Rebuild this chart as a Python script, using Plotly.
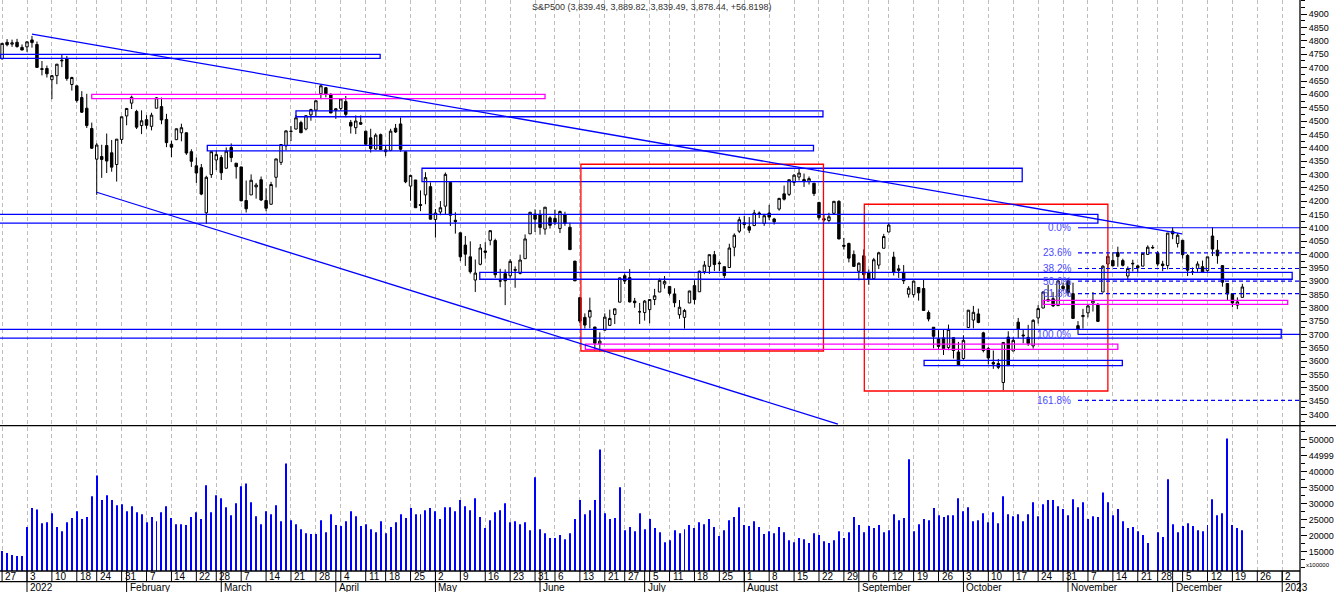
import plotly.graph_objects as go
import pandas as pd

# trading calendar (weekdays less NYSE holidays), future weekdays on the right
first_day = "2021-12-27"
last_day = "2022-12-21"
axis_end = "2023-01-06"
holidays = ["2022-01-17", "2022-02-21", "2022-04-15", "2022-05-30",
            "2022-06-20", "2022-07-04", "2022-09-05", "2022-11-24"]
month_names = ["2022", "February", "March", "April", "May", "June", "July",
               "August", "September", "October", "November", "December", "2023"]

# daily OHLC, Dec 27 2021 .. Dec 21 2022
opens = [4733, 4795, 4788, 4795, 4776,
         4778, 4804, 4787, 4693, 4697, 4655, 4670, 4728, 4733, 4637, 4632, 4588, 4548, 4472, 4357, 4367, 4408, 4381, 4337, 4431,
         4519, 4567, 4536, 4483, 4505, 4480, 4548, 4554, 4506, 4413, 4430, 4456, 4456, 4385, 4332, 4325, 4156, 4299, 4354,
         4363, 4323, 4401, 4342, 4328, 4202, 4223, 4253, 4280, 4202, 4188, 4289, 4345, 4407, 4462, 4470, 4494, 4470, 4523, 4541, 4602, 4625, 4600,
         4540, 4547, 4573, 4495, 4475, 4494, 4462, 4437, 4395, 4449, 4385, 4390, 4473, 4489, 4385, 4256, 4279, 4187, 4223, 4254,
         4131, 4159, 4181, 4270, 4128, 4081, 4035, 3991, 3904, 3963, 4013, 4053, 4052, 3900, 3928, 3920, 3943, 3929, 3984, 4077, 4151,
         4150, 4095, 4137, 4135, 4097, 4148, 4102, 3975, 3838, 3764, 3765, 3728, 3665, 3716, 3734, 3775, 3821, 3920, 3913, 3825, 3785,
         3782, 3793, 3831, 3859, 3889, 3880, 3852, 3774, 3764, 3818, 3883, 3860, 3935, 3955, 3999, 3965, 3954, 3951, 4027, 4087,
         4112, 4104, 4108, 4155, 4116, 4155, 4133, 4170, 4227, 4225, 4270, 4290, 4281, 4274, 4267, 4195, 4134, 4127, 4154, 4199, 4034, 4041, 4000,
         3937, 3995, 3931, 3909, 3960, 4023, 4084, 3990, 3940, 3932, 3851, 3849, 3876, 3872, 3782, 3727, 3683, 3687, 3651, 3688, 3634,
         3610, 3726, 3754, 3777, 3706, 3647, 3595, 3591, 3520, 3690, 3638, 3746, 3698, 3689, 3657, 3762, 3799, 3825, 3834, 3808, 3881,
         3901, 3853, 3733, 3767, 3781, 3818, 3810, 3859, 3964, 3977, 4007, 3977, 3919, 3967, 3957, 3956, 4000, 4024, 4005, 3964, 3958,
         4087, 4041, 4053, 3996, 3934, 3947, 3954, 3939, 4069, 4016, 3958, 3891, 3853, 3810, 3839]
highs = [4791, 4807, 4805, 4808, 4787,
         4797, 4819, 4798, 4725, 4708, 4673, 4714, 4749, 4744, 4666, 4632, 4612, 4602, 4494, 4417, 4411, 4453, 4429, 4432, 4516,
         4549, 4595, 4542, 4540, 4522, 4531, 4590, 4588, 4527, 4426, 4472, 4490, 4457, 4394, 4363, 4339, 4295, 4385, 4389,
         4372, 4401, 4416, 4342, 4328, 4277, 4300, 4268, 4292, 4248, 4272, 4358, 4412, 4465, 4481, 4523, 4501, 4521, 4546, 4576, 4637, 4627, 4604,
         4548, 4583, 4594, 4504, 4521, 4521, 4464, 4471, 4454, 4453, 4411, 4471, 4489, 4513, 4385, 4299, 4279, 4240, 4308, 4270,
         4170, 4200, 4307, 4270, 4158, 4082, 4069, 4049, 3981, 4039, 4046, 4090, 4059, 3946, 3944, 3982, 3955, 3999, 4075, 4159, 4169,
         4167, 4177, 4143, 4168, 4164, 4160, 4119, 3975, 3839, 3779, 3838, 3728, 3708, 3779, 3793, 3797, 3913, 3928, 3945, 3837, 3818,
         3829, 3832, 3871, 3910, 3919, 3881, 3873, 3829, 3796, 3864, 3903, 3939, 3975, 3999, 4013, 3975, 3954, 4040, 4079, 4141,
         4145, 4140, 4167, 4161, 4152, 4186, 4137, 4212, 4258, 4280, 4301, 4325, 4303, 4292, 4267, 4195, 4149, 4156, 4200, 4203, 4062, 4044, 4015,
         3970, 4019, 3943, 3987, 4010, 4077, 4119, 4010, 3961, 3960, 3881, 3901, 3876, 3907, 3790, 3727, 3716, 3717, 3737, 3688, 3672,
         3697, 3790, 3807, 3797, 3710, 3653, 3640, 3608, 3671, 3712, 3690, 3762, 3719, 3736, 3757, 3810, 3862, 3887, 3859, 3905, 3894,
         3911, 3894, 3750, 3796, 3814, 3859, 3818, 3959, 4002, 4008, 4029, 3984, 3955, 3980, 3962, 4004, 4034, 4035, 4013, 3976, 4080,
         4101, 4080, 4053, 4001, 3951, 3974, 3977, 3991, 4101, 4054, 3959, 3891, 3855, 3839, 3890]
lows = [4733, 4780, 4778, 4775, 4766,
        4759, 4775, 4700, 4671, 4663, 4582, 4638, 4702, 4651, 4614, 4569, 4530, 4474, 4395, 4223, 4287, 4305, 4310, 4273, 4415,
        4484, 4545, 4470, 4451, 4471, 4465, 4548, 4488, 4402, 4365, 4429, 4424, 4373, 4328, 4268, 4222, 4115, 4287, 4316,
        4279, 4322, 4346, 4284, 4199, 4157, 4223, 4209, 4200, 4162, 4187, 4251, 4335, 4390, 4425, 4468, 4455, 4465, 4501, 4517, 4582, 4589, 4531,
        4508, 4539, 4514, 4453, 4451, 4485, 4409, 4382, 4393, 4392, 4368, 4387, 4455, 4385, 4267, 4201, 4175, 4162, 4188, 4131,
        4063, 4147, 4148, 4107, 4078, 3975, 3957, 3928, 3859, 3959, 3984, 4034, 3912, 3877, 3810, 3910, 3875, 3925, 3984, 4077, 4084,
        4074, 4074, 4097, 4110, 4080, 4107, 4017, 3900, 3743, 3722, 3723, 3640, 3636, 3716, 3733, 3739, 3821, 3889, 3820, 3800, 3739,
        3752, 3742, 3810, 3859, 3872, 3846, 3802, 3759, 3722, 3818, 3813, 3860, 3926, 3927, 3938, 3937, 3911, 3951, 3993, 4080,
        4097, 4080, 4108, 4136, 4107, 4129, 4112, 4164, 4202, 4219, 4257, 4277, 4253, 4262, 4219, 4130, 4123, 4120, 4148, 4057, 4018, 3970, 3955,
        3903, 3907, 3886, 3906, 3945, 4023, 4084, 3921, 3912, 3889, 3838, 3839, 3827, 3789, 3749, 3648, 3644, 3623, 3641, 3610, 3584,
        3605, 3726, 3723, 3742, 3633, 3588, 3571, 3570, 3491, 3584, 3638, 3686, 3667, 3657, 3647, 3741, 3799, 3825, 3803, 3808, 3863,
        3843, 3759, 3699, 3722, 3764, 3786, 3748, 3859, 3944, 3956, 3954, 3955, 3906, 3936, 3934, 3956, 3999, 4021, 3956, 3937, 3944,
        4057, 4026, 3984, 3919, 3923, 3935, 3934, 3935, 3994, 3965, 3879, 3828, 3802, 3795, 3839]
closes = [4791, 4786, 4793, 4779, 4766,
          4797, 4794, 4701, 4696, 4677, 4670, 4713, 4726, 4659, 4663, 4577, 4533, 4483, 4398, 4410, 4356, 4350, 4327, 4432, 4516,
          4547, 4589, 4477, 4501, 4484, 4522, 4587, 4504, 4419, 4402, 4471, 4475, 4380, 4349, 4305, 4226, 4289, 4385, 4374,
          4306, 4387, 4363, 4329, 4201, 4171, 4278, 4260, 4204, 4173, 4262, 4358, 4412, 4463, 4461, 4512, 4456, 4520, 4543, 4576, 4632, 4602, 4530,
          4546, 4583, 4525, 4481, 4500, 4488, 4413, 4397, 4447, 4393, 4392, 4462, 4459, 4394, 4272, 4296, 4175, 4184, 4288, 4132,
          4155, 4175, 4300, 4147, 4123, 3991, 4001, 3935, 3930, 4024, 4008, 4089, 3924, 3901, 3901, 3974, 3941, 3979, 4058, 4158, 4132,
          4101, 4177, 4109, 4121, 4161, 4116, 4018, 3901, 3750, 3735, 3790, 3667, 3675, 3765, 3760, 3796, 3912, 3900, 3822, 3819, 3785,
          3825, 3831, 3845, 3903, 3899, 3854, 3819, 3802, 3790, 3863, 3831, 3937, 3960, 3999, 3962, 3967, 3921, 4024, 4072, 4130,
          4119, 4091, 4155, 4152, 4145, 4140, 4122, 4210, 4207, 4280, 4297, 4305, 4274, 4284, 4228, 4138, 4129, 4141, 4199, 4058, 4031, 3986, 3955,
          3967, 3924, 3908, 3980, 4006, 4067, 4110, 3933, 3946, 3901, 3873, 3900, 3856, 3790, 3758, 3693, 3655, 3647, 3719, 3640, 3586,
          3678, 3791, 3783, 3745, 3640, 3612, 3589, 3577, 3670, 3583, 3678, 3720, 3695, 3666, 3753, 3797, 3859, 3831, 3807, 3901, 3872,
          3856, 3760, 3720, 3771, 3807, 3828, 3749, 3956, 3993, 3957, 3992, 3959, 3947, 3965, 3950, 4004, 4027, 4026, 3964, 3958, 4080,
          4077, 4072, 3999, 3941, 3934, 3964, 3934, 3991, 4020, 3995, 3896, 3852, 3818, 3822, 3878]

# volume, in units of 100000
volume = [15200, 14600, 14000, 13700, 13700, 22700, 28600, 28200, 23900, 24200,
          27000, 22700, 21400, 24200, 25500, 27600, 25200, 25800, 32300, 38800,
          31100, 32600, 31100, 29500, 29800, 27600, 29200, 27300, 26700, 24200,
          25800, 24500, 27300, 29200, 25500, 23600, 23600, 23300, 25800, 27300,
          25200, 35700, 27300, 32600, 31700, 28900, 26400, 30100, 35400, 36300,
          30400, 26100, 23600, 27600, 26700, 29500, 24500, 42500, 24800, 23600,
          22000, 20800, 20500, 20500, 24800, 21100, 26700, 23300, 23000, 24500,
          27600, 26100, 23000, 23600, 22000, 21100, 24500, 20800, 22700, 24200,
          26700, 25500, 28600, 26700, 26700, 27900, 28600, 27600, 25200, 28900,
          28900, 27600, 31100, 29200, 27900, 31700, 25800, 22400, 24800, 27300,
          27900, 30100, 24200, 24500, 23600, 24200, 21700, 38200, 22000, 20800,
          19300, 19300, 20200, 18900, 20800, 25200, 31100, 26700, 27900, 31100,
          46900, 27000, 25200, 25500, 35100, 21700, 22700, 21400, 27000, 22000,
          25200, 22400, 21100, 18000, 18600, 21700, 20800, 22000, 23300, 22400,
          24200, 23600, 25200, 22700, 19900, 21700, 24800, 25800, 28900, 23300,
          23000, 24500, 22700, 20500, 21400, 20800, 22700, 21100, 18600, 18000,
          19300, 18900, 17700, 20800, 20200, 18300, 17700, 18600, 21400, 19300,
          21100, 25800, 23300, 21100, 23000, 22400, 23300, 21100, 21700, 26700,
          24800, 25500, 43800, 21400, 23600, 25200, 24800, 28600, 26400, 25800,
          26400, 26400, 31700, 27600, 28900, 24500, 24800, 27000, 24200, 27300,
          23900, 32300, 26700, 26100, 26700, 24500, 26700, 30400, 26100, 29800,
          31100, 31100, 29200, 28300, 26400, 31400, 28900, 30400, 25200, 26100,
          25800, 33500, 30400, 26400, 28300, 24500, 22400, 22700, 21400, 20200,
          17700, None, 21100, 19600, 37600, 23600, 21100, 23000, 23900, 23000,
          21700, 21400, 23300, 31400, 26400, 27000, 50300, 23300, 22400, 21700]

vol_ticks = [15000, 20000, 25000, 30000, 35000, 40000, 45000, 50000]
vol_labels = ["15000", "20000", "25000", "30000", "35000", "40000", "44999", "50000"]

# drawn objects: (from day, to day, low, high, colour)
zones = [
    (-0.4, 75.9, 4735, 4750, "#0000ff"),
    (18.0, 109.0, 4584, 4600, "#ff00ff"),
    (59.0, 164.8, 4516, 4538, "#0000ff"),
    (41.2, 162.9, 4388, 4409, "#0000ff"),
    (84.3, 204.8, 4273, 4323, "#0000ff"),
    (116.2, 164.9, 3638, 4338, "#ff0000"),
    (173.1, 222.0, 3488, 4188, "#ff0000"),
    (-0.6, 220.0, 4117, 4150, "#0000ff"),
    (95.9, 259.0, 3907, 3933, "#0000ff"),
    (-0.6, 256.8, 3686, 3719, "#0000ff"),
    (209.0, 258.1, 3813, 3828, "#ff00ff"),
    (117.1, 224.0, 3644, 3664, "#ff00ff"),
    (185.1, 224.9, 3583, 3603, "#0000ff"),
]
trendlines = [
    (6.0, 4826, 236.9, 4077),
    (19.0, 4233, 167.8, 3364),
]
fib_top, fib_bottom, fib_start = 4100, 3700, 216
fib_ratios = [0.0, 0.236, 0.382, 0.5, 0.618, 1.0, 1.618]
title_text = "S&P500 (3,839.49, 3,889.82, 3,839.49, 3,878.44, +56.8198)"

FONT = "Liberation Sans, Arial, sans-serif"

trade_days = pd.bdate_range(first_day, last_day)
trade_days = trade_days[~trade_days.isin(pd.to_datetime(holidays))]
future_days = pd.bdate_range(pd.Timestamp(last_day) + pd.Timedelta(days=1), axis_end)
axis_days = trade_days.append(future_days)
bars = list(range(len(trade_days)))

week_idx, month_idx = [], []
for i, d in enumerate(axis_days):
    if i == 0 or d.isocalendar()[1] != axis_days[i - 1].isocalendar()[1]:
        week_idx.append(i)
    if i > 0 and d.month != axis_days[i - 1].month:
        month_idx.append(i)

x_range = [-0.42, 260.57]
plot_h = 571.0


def py(px):
    # pixel row below the top of the plot -> paper y
    return (plot_h - px) / plot_h


fig = go.Figure()
fig.add_trace(go.Candlestick(
    x=bars, open=opens, high=highs, low=lows, close=closes,
    increasing=dict(line=dict(color="black", width=1), fillcolor="white"),
    decreasing=dict(line=dict(color="black", width=1), fillcolor="black"),
    whiskerwidth=0, hoverinfo="skip", xaxis="x", yaxis="y"))
fig.add_trace(go.Bar(
    x=bars, y=volume, width=0.2, marker=dict(color="#0000ff", line=dict(width=0)),
    hoverinfo="skip", xaxis="x2", yaxis="y2"))

shapes = []
for x0, x1, lo, hi, col in zones:
    shapes.append(dict(type="rect", xref="x", yref="y", x0=x0, x1=x1, y0=lo, y1=hi,
                       line=dict(color=col, width=1.3), fillcolor="rgba(0,0,0,0)"))
for x0, y0, x1, y1 in trendlines:
    shapes.append(dict(type="line", xref="x", yref="y", x0=x0, y0=y0, x1=x1, y1=y1,
                       line=dict(color="#0000ff", width=1.3)))
for r in fib_ratios:
    lvl = fib_top - r * (fib_top - fib_bottom)
    solid = r in (0.0, 1.0)
    shapes.append(dict(type="line", xref="x", yref="y", x0=fib_start, x1=x_range[1],
                       y0=lvl, y1=lvl,
                       line=dict(color="#0000ff", width=1.2, dash="solid" if solid else "4px,3px")))

# panel borders and the two rows of the date axis
shapes += [
    dict(type="line", xref="paper", yref="paper", x0=0, x1=1336 / 1300, y0=py(425.7), y1=py(425.7),
         line=dict(color="black", width=1.3)),
    dict(type="line", xref="paper", yref="paper", x0=0, x1=1, y0=0, y1=0,
         line=dict(color="black", width=1.3)),
    dict(type="line", xref="paper", yref="paper", x0=0, x1=1, y0=py(581.7), y1=py(581.7),
         line=dict(color="black", width=1.3)),
    dict(type="line", xref="paper", yref="paper", x0=1, x1=1, y0=py(592), y1=1,
         line=dict(color="black", width=1.3)),
]
for i in week_idx:
    shapes.append(dict(type="line", xref="x", yref="paper", x0=i, x1=i, y0=0, y1=py(581.7),
                       line=dict(color="black", width=1)))
for i in month_idx:
    shapes.append(dict(type="line", xref="x", yref="paper", x0=i, x1=i, y0=0, y1=py(592),
                       line=dict(color="black", width=1)))

annotations = []
for i in week_idx:
    annotations.append(dict(x=i, y=py(576.5), xref="x", yref="paper", text=str(axis_days[i].day),
                            showarrow=False, xanchor="left", yanchor="middle", xshift=1,
                            font=dict(family=FONT, size=10, color="black")))
for k, i in enumerate(month_idx):
    annotations.append(dict(x=i, y=py(587.5), xref="x", yref="paper", text=month_names[k],
                            showarrow=False, xanchor="left", yanchor="middle", xshift=1,
                            font=dict(family=FONT, size=10, color="black")))
for r in fib_ratios:
    lvl = fib_top - r * (fib_top - fib_bottom)
    annotations.append(dict(x=fib_start, y=lvl, xref="x", yref="y", text=f"{r * 100:.1f}%",
                            showarrow=False, xanchor="right", yanchor="middle", xshift=-5,
                            font=dict(family=FONT, size=10, color="#4a4aff")))
annotations.append(dict(x=652 / 1300, y=py(7), xref="paper", yref="paper", text=title_text,
                        showarrow=False, xanchor="center", yanchor="middle",
                        font=dict(family=FONT, size=9, color="#333333")))
annotations.append(dict(x=1318 / 1300, y=py(564.5), xref="paper", yref="paper", text="x100000",
                        showarrow=False, xanchor="center", yanchor="middle",
                        font=dict(family=FONT, size=6, color="black")))

xcommon = dict(range=x_range, tickvals=week_idx, showticklabels=False, ticks="",
               showgrid=True, gridcolor="#bdbdbd", griddash="4px,3px", gridwidth=1,
               zeroline=False, showline=False, fixedrange=True)

fig.update_layout(
    width=1336, height=592,
    margin=dict(l=0, r=36, t=0, b=21),
    paper_bgcolor="white", plot_bgcolor="white",
    showlegend=False, hovermode=False,
    xaxis=dict(domain=[0, 1], anchor="y", rangeslider=dict(visible=False), **xcommon),
    xaxis2=dict(domain=[0, 1], anchor="y2", **xcommon),
    yaxis=dict(domain=[py(425.7), 1], range=[3358, 4953.6], side="right", anchor="x",
               tickvals=list(range(3400, 4901, 50)), ticks="outside", ticklen=6,
               tickcolor="black", showgrid=False, zeroline=False, showline=False,
               tickfont=dict(family=FONT, size=9, color="black"),
               minor=dict(tick0=0, dtick=25, ticks="outside", ticklen=4, tickcolor="black",
                          showgrid=False)),
    yaxis2=dict(domain=[0, py(426.5)], range=[9000, 54040], side="right", anchor="x2",
                tickvals=vol_ticks, ticktext=vol_labels, ticks="outside", ticklen=6,
                tickcolor="black", showgrid=False, zeroline=False, showline=False,
                tickfont=dict(family=FONT, size=9, color="black"),
                minor=dict(tick0=0, dtick=2500, ticks="outside", ticklen=4, tickcolor="black",
                           showgrid=False)),
    shapes=shapes,
    annotations=annotations,
)

# the page's default body margin would push the figure off the 1336x592 window
fig.write_html("out.html", config={"displayModeBar": False},
               post_script="document.body.style.margin='0';")
